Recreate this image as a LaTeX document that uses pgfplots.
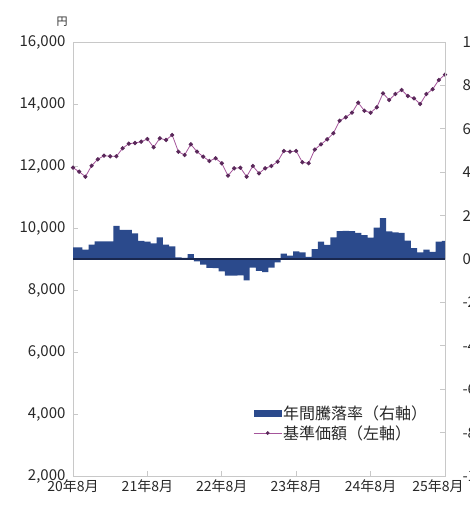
\documentclass[border=0pt]{standalone}
\usepackage{fontspec}
\setmainfont{Noto Sans CJK JP}
\usepackage{pgfplots}
\pgfplotsset{compat=1.18}
\usepackage{pgfplotstable}
\definecolor{barblue}{RGB}{43,74,140}
\definecolor{zeronavy}{RGB}{25,40,80}
\definecolor{lineviolet}{RGB}{165,85,155}
\definecolor{markviolet}{RGB}{90,40,90}
\definecolor{framegray}{RGB}{200,200,200}
\definecolor{labelgray}{RGB}{40,40,40}

\pgfplotstableread{
i price
0 11945
1 11816
2 11655
3 12010
4 12216
5 12332
6 12313
7 12313
8 12571
9 12719
10 12742
11 12784
12 12870
13 12603
14 12893
15 12839
16 13000
17 12461
18 12355
19 12700
20 12461
21 12300
22 12161
23 12248
24 12087
25 11687
26 11926
27 11945
28 11655
29 12000
30 11764
31 11926
32 12000
33 12139
34 12484
35 12461
36 12484
37 12119
38 12087
39 12530
40 12700
41 12861
42 13055
43 13461
44 13571
45 13720
46 14042
47 13784
48 13720
49 13893
50 14345
51 14129
52 14322
53 14452
54 14258
55 14184
56 14000
57 14322
58 14474
59 14774
60 14950
}\pricetable

\pgfplotstableread{
i rate
0 5.3
1 5.3
2 4.3
3 6.6
4 8.1
5 8.1
6 8.1
7 15.3
8 13.4
9 13.4
10 11.8
11 8.4
12 8.0
13 7.2
14 10.0
15 6.6
16 5.8
17 0.7
18 0.5
19 2.2
20 -1.1
21 -2.6
22 -4.1
23 -4.2
24 -5.7
25 -7.7
26 -7.7
27 -7.5
28 -9.8
29 -4.0
30 -5.5
31 -6.0
32 -4.0
33 -1.5
34 2.5
35 1.5
36 3.5
37 3.0
38 1.0
39 4.5
40 8.0
41 6.5
42 10.0
43 12.8
44 13.0
45 12.8
46 12.0
47 11.0
48 9.8
49 14.4
50 18.8
51 12.7
52 12.3
53 12.0
54 8.5
55 5.0
56 3.0
57 4.3
58 3.3
59 8.0
60 8.3
}\ratetable

\begin{document}
\begin{tikzpicture}
\begin{axis}[
  at={(73pt,29pt)}, anchor=south west,
  scale only axis, width=372pt, height=434pt,
  xmin=0, xmax=60, ymin=2000, ymax=16000,
  xtick={0,12,24,36,48,60},
  xticklabels={20年8月,21年8月,22年8月,23年8月,24年8月,\hspace*{-14pt}25年8月},
  ytick={2000,4000,6000,8000,10000,12000,14000,16000},
  scaled y ticks=false,
  xtick pos=bottom, ytick pos=left,
  tick align=inside,
  major tick length=5pt,
  axis line style={framegray, line width=0.8pt},
  tick style={framegray, line width=0.7pt},
  /pgf/number format/1000 sep={,},
  /pgf/number format/assume math mode=true,
  yticklabel style={font=\fontsize{15}{16}\selectfont, text=labelgray, xshift=-4pt},
  xticklabel style={font=\fontsize{14}{15}\selectfont, text=labelgray},
]
\addplot[color=lineviolet, line width=0.8pt, mark=*, mark size=1.7pt,
  mark options={fill=markviolet, draw=markviolet}] table[x=i, y=price] {\pricetable};
\end{axis}

\begin{axis}[
  at={(73pt,29pt)}, anchor=south west,
  scale only axis, width=372pt, height=434pt,
  xmin=0, xmax=60, ymin=-100, ymax=100,
  axis x line=none, axis y line*=right,
  ytick={-100,-80,-60,-40,-20,0,20,40,60,80,100},
  yticklabel={\pgfmathprintnumber{\tick}\%},
  tick align=inside,
  major tick length=5pt,
  axis line style={framegray, line width=0.8pt},
  tick style={framegray, line width=0.7pt},
  /pgf/number format/assume math mode=true,
  yticklabel style={font=\fontsize{15}{16}\selectfont, text=labelgray, xshift=14pt},
  legend style={at={(0.476,0.168)}, anchor=north west, draw=none, fill=none,
    font=\fontsize{16}{18}\selectfont, text=labelgray, row sep=2pt,
    nodes={inner sep=1pt}},
  legend cell align=left,
]
\addplot[ybar, bar width=6.2pt, bar shift=0pt, fill=barblue, draw=none,
  legend image code/.code={\fill[barblue] (0pt,-3.5pt) rectangle (28pt,3.5pt);}]
  table[x=i, y=rate] {\ratetable};
\addlegendentry{年間騰落率（右軸）}
\addlegendimage{legend image code/.code={\draw[lineviolet, line width=0.8pt] (0pt,0pt) -- (28pt,0pt); \fill[markviolet] (14pt,0pt) circle (1.7pt);}}
\addlegendentry{基準価額（左軸）}
\addplot[zeronavy, line width=1.1pt, forget plot] coordinates {(0,0) (60,0)};
\end{axis}

\node[font=\fontsize{11}{12}\selectfont, text=labelgray] at (62pt,483pt) {円};

\pgfresetboundingbox
\path[use as bounding box] (0,0) rectangle (470pt,505pt);
\end{tikzpicture}
\end{document}
